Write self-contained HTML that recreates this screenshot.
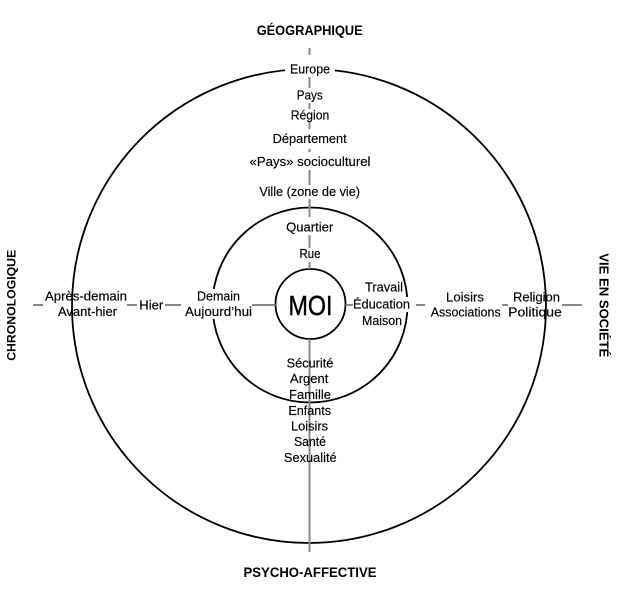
<!DOCTYPE html>
<html>
<head>
<meta charset="utf-8">
<style>
  html, body { margin:0; padding:0; background:#fff; }
  svg { display:block; }
  text { font-family: "Liberation Sans", "DejaVu Sans", sans-serif; fill:#000; }
  .l { font-size:12.5px; stroke:#000; stroke-width:0.15; }
  .t { font-size:14px; font-weight:bold; }
</style>
</head>
<body>
<svg width="619" height="589" viewBox="0 0 619 589" xmlns="http://www.w3.org/2000/svg">
  <rect x="0" y="0" width="619" height="589" fill="#fff"/>

  <!-- circles -->
  <circle cx="309" cy="306" r="237" fill="none" stroke="#000" stroke-width="1.8"/>
  <circle cx="310" cy="305" r="97.5" fill="none" stroke="#000" stroke-width="1.8"/>

  <!-- white masks -->
  <rect x="285" y="61" width="50" height="17" fill="#fff"/>
  <rect x="351" y="297" width="62" height="15" fill="#fff"/>
  <rect x="183" y="289" width="71" height="30" fill="#fff"/>

  <!-- MOI circle -->
  <circle cx="310.5" cy="304" r="35" fill="#fff" stroke="#000" stroke-width="1.8"/>

  <!-- gray axis lines -->
  <g stroke="#888" stroke-width="2" fill="none">
    <line x1="309.5" y1="48" x2="309.5" y2="55"/>
    <line x1="309.5" y1="77" x2="309.5" y2="88"/>
    <line x1="309.5" y1="103" x2="309.5" y2="109"/>
    <line x1="309.5" y1="122" x2="309.5" y2="129"/>
    <line x1="309.5" y1="149" x2="309.5" y2="152"/>
    <line x1="309.5" y1="170" x2="309.5" y2="185"/>
    <line x1="309.5" y1="199" x2="309.5" y2="217"/>
    <line x1="309.5" y1="235" x2="309.5" y2="248"/>
    <line x1="309.5" y1="262" x2="309.5" y2="269"/>
    <line x1="309.5" y1="339" x2="309.5" y2="552"/>
    <line x1="33" y1="305" x2="43" y2="305"/>
    <line x1="127" y1="305" x2="137" y2="305"/>
    <line x1="165" y1="305" x2="181" y2="305"/>
    <line x1="252" y1="305" x2="275.5" y2="305"/>
    <line x1="345.5" y1="305" x2="353" y2="305"/>
    <line x1="416" y1="305" x2="425" y2="305"/>
    <line x1="502" y1="305" x2="508" y2="305"/>
    <line x1="562" y1="305" x2="582" y2="305"/>
  </g>

  <!-- titles -->
  <text class="t" x="309.7" y="35" text-anchor="middle" textLength="106" lengthAdjust="spacingAndGlyphs">GÉOGRAPHIQUE</text>
  <text class="t" x="310" y="577" text-anchor="middle" textLength="133" lengthAdjust="spacingAndGlyphs">PSYCHO-AFFECTIVE</text>
  <text class="t" style="font-size:12px" transform="translate(15.7,305.3) rotate(-90)" x="0" y="0" text-anchor="middle" textLength="111" lengthAdjust="spacingAndGlyphs">CHRONOLOGIQUE</text>
  <text class="t" style="font-size:12.5px" transform="translate(599.5,305.3) rotate(90)" x="0" y="0" text-anchor="middle" textLength="104" lengthAdjust="spacingAndGlyphs">VIE EN SOCIÉTÉ</text>

  <!-- MOI -->
  <text x="310.5" y="315" text-anchor="middle" style="font-size:28px" stroke="#000" stroke-width="0.5" textLength="44" lengthAdjust="spacingAndGlyphs">MOI</text>

  <g text-anchor="middle">
    <text class="l" x="310" y="73.3" textLength="40" lengthAdjust="spacingAndGlyphs">Europe</text>
    <text class="l" x="309.7" y="99.5" textLength="26" lengthAdjust="spacingAndGlyphs">Pays</text>
    <text class="l" x="310" y="119.5" textLength="38.6" lengthAdjust="spacingAndGlyphs">Région</text>
    <text class="l" x="309.7" y="143" textLength="74" lengthAdjust="spacingAndGlyphs">Département</text>
    <text class="l" x="310" y="166" textLength="121" lengthAdjust="spacingAndGlyphs">«Pays» socioculturel</text>
    <text class="l" x="309.7" y="196" textLength="100.7" lengthAdjust="spacingAndGlyphs">Ville (zone de vie)</text>
    <text class="l" x="309.7" y="231.7" textLength="47" lengthAdjust="spacingAndGlyphs">Quartier</text>
    <text class="l" x="310" y="258" textLength="21" lengthAdjust="spacingAndGlyphs">Rue</text>

    <text class="l" x="86" y="300.7" textLength="82" lengthAdjust="spacingAndGlyphs">Après-demain</text>
    <text class="l" x="87.5" y="316" textLength="59" lengthAdjust="spacingAndGlyphs">Avant-hier</text>
    <text class="l" x="151.3" y="309.3" textLength="24" lengthAdjust="spacingAndGlyphs">Hier</text>
    <text class="l" x="218.5" y="300.7" textLength="43" lengthAdjust="spacingAndGlyphs">Demain</text>
    <text class="l" x="218.5" y="316" textLength="67" lengthAdjust="spacingAndGlyphs">Aujourd’hui</text>

    <text class="l" x="384" y="291.6" textLength="38" lengthAdjust="spacingAndGlyphs">Travail</text>
    <text class="l" x="381.5" y="308.3" textLength="57" lengthAdjust="spacingAndGlyphs">Éducation</text>
    <text class="l" x="382" y="325" textLength="40" lengthAdjust="spacingAndGlyphs">Maison</text>
    <text class="l" x="465" y="301.5" textLength="38" lengthAdjust="spacingAndGlyphs">Loisirs</text>
    <text class="l" x="465.7" y="316.5" textLength="70" lengthAdjust="spacingAndGlyphs">Associations</text>
    <text class="l" x="536.5" y="301.5" textLength="47" lengthAdjust="spacingAndGlyphs">Religion</text>
    <text class="l" x="535" y="316.5" textLength="53.7" lengthAdjust="spacingAndGlyphs">Politique</text>

    <text class="l" x="310" y="367.3" textLength="46.7" lengthAdjust="spacingAndGlyphs">Sécurité</text>
    <text class="l" x="309.2" y="383" textLength="38.3" lengthAdjust="spacingAndGlyphs">Argent</text>
    <text class="l" x="310" y="399" textLength="42" lengthAdjust="spacingAndGlyphs">Famille</text>
    <text class="l" x="309.7" y="414.8" textLength="42.7" lengthAdjust="spacingAndGlyphs">Enfants</text>
    <text class="l" x="309.5" y="430.5" textLength="37" lengthAdjust="spacingAndGlyphs">Loisirs</text>
    <text class="l" x="310" y="446.2" textLength="32" lengthAdjust="spacingAndGlyphs">Santé</text>
    <text class="l" x="310.3" y="461.8" textLength="52.7" lengthAdjust="spacingAndGlyphs">Sexualité</text>
  </g>
</svg>
</body>
</html>
